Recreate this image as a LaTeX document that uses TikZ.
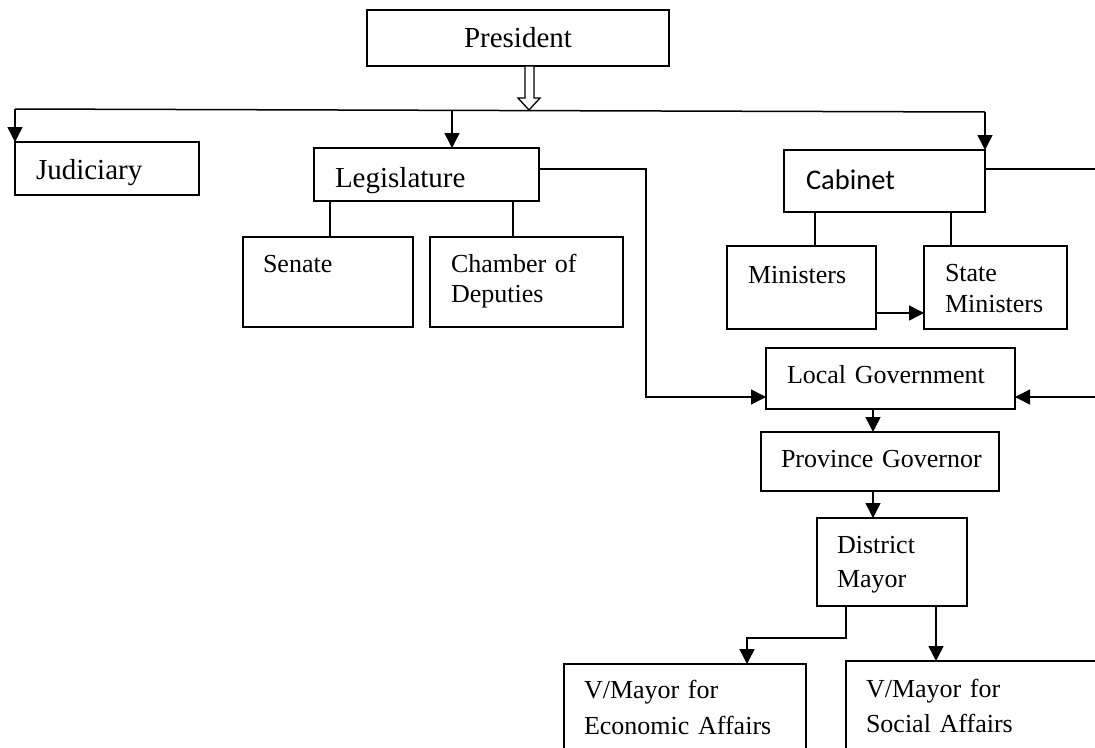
\documentclass[tikz,border=0pt]{standalone}
\usepackage{fontspec}
\setmainfont{Liberation Serif}
\newfontfamily\cabfont{Carlito}
\usetikzlibrary{arrows.meta,calc}
\tikzset{
  bx/.style={draw, line width=1.6pt, rectangle, inner sep=0pt, outer sep=0pt, anchor=north west},
  lpad/.style={execute at begin node={\leftskip=#1\relax}},
  big/.style={font=\fontsize{29pt}{33pt}\selectfont},
  med/.style={font=\fontsize{26pt}{#1}\selectfont},
  med/.default=30pt,
  ln/.style={line width=1.5pt},
  arr/.style={line width=1.5pt, -{Triangle[length=15pt,width=15pt]}},
  hollow/.style={line width=1.3pt, fill=white, line join=miter},
}
\begin{document}
\begin{tikzpicture}[x=1pt,y=-1pt]
\useasboundingbox (0,0) rectangle (1095,747);
\clip (0,0) rectangle (1095,747);

% boxes
\node[bx,big,text width=302pt,align=center,text height=37pt,text depth=19pt] (pres) at (367,10) {President};
\node[bx,big,text width=184pt,lpad=21pt,text height=37pt,text depth=16pt] (jud) at (15,142) {Judiciary};
\node[bx,big,text width=225pt,lpad=21pt,text height=39pt,text depth=14pt] (leg) at (314,148) {Legislature};
\node[bx,font=\cabfont\fontsize{28.5pt}{33pt}\selectfont,text width=201pt,lpad=22pt,text height=39pt,text depth=23pt] (cab) at (784,150) {Cabinet};
\node[bx,med,text width=170pt,lpad=20pt,text height=35pt,text depth=55pt] (sen) at (243,237) {Senate};
\node[bx,med=30pt,text width=193pt,lpad=21pt,text height=35pt,text depth=55pt] (cha) at (430,237) {Chamber of\\Deputies};
\node[bx,med,text width=149pt,lpad=21pt,text height=37pt,text depth=46pt] (min) at (727,246) {Ministers};
\node[bx,med=31pt,text width=143pt,lpad=21pt,text height=35pt,text depth=48pt] (st) at (924,246) {State\\Ministers};
\node[bx,med,text width=249pt,lpad=21pt,text height=35pt,text depth=26pt] (lg) at (766,348) {Local Government};
\node[bx,med,text width=238pt,lpad=20pt,text height=35pt,text depth=24pt] (pg) at (761,432) {Province Governor};
\node[bx,med=34.5pt,text width=150pt,lpad=20pt,text height=35pt,text depth=53pt] (dm) at (817,518) {District\\Mayor};
\node[bx,med=36pt,text width=242pt,lpad=20pt,text height=34pt,text depth=72pt] (ec) at (564,664) {V/Mayor for\\Economic Affairs};
\node[bx,med=35pt,text width=264pt,lpad=20pt,text height=36pt,text depth=73pt] (so) at (846,661) {V/Mayor for\\Social Affairs};

% top distribution line
\coordinate (hl) at (15,109);
\coordinate (hr) at (985,112);
\coordinate (la) at ($(hl)!0.4505!(hr)$);
\draw[ln] (hl) -- (hr);
\draw[arr] (hl) -- (jud.north west);
\draw[arr] (la) -- (la |- leg.north);
\draw[arr] (hr) -- (cab.north east);

% hollow arrow from President
\draw[hollow] (pres.south -| 525,0) -- (pres.south -| 534,0) -- (534,98) -- (540,98) -- (529,110) -- (518,98) -- (525,98) -- cycle;

% legislature branches
\draw[ln] (leg.south -| 330,0) -- (sen.north -| 330,0);
\draw[ln] (leg.south -| 513,0) -- (cha.north -| 513,0);
\draw[arr] ($(leg.north east)+(0,21)$) -- (646,169) |- ($(lg.south west)+(0,-12)$);

% cabinet branches
\draw[ln] (cab.south -| 815,0) -- (min.north -| 815,0);
\draw[ln] (cab.south -| 951,0) -- (st.north -| 951,0);
\draw[arr] (min.east |- 0,313) -- (st.west |- 0,313);
\draw[arr] ($(cab.north east)+(0,19)$) -- (1110,169) |- ($(lg.south east)+(0,-12)$);

% local government chain
\draw[arr] (lg.south -| 873,0) -- (pg.north -| 873,0);
\draw[arr] (pg.south -| 873,0) -- (dm.north -| 873,0);
\draw[arr] (dm.south -| 846,0) |- (747,638) -- (ec.north -| 747,0);
\draw[arr] (dm.south -| 936,0) -- (so.north -| 936,0);
\end{tikzpicture}
\end{document}
